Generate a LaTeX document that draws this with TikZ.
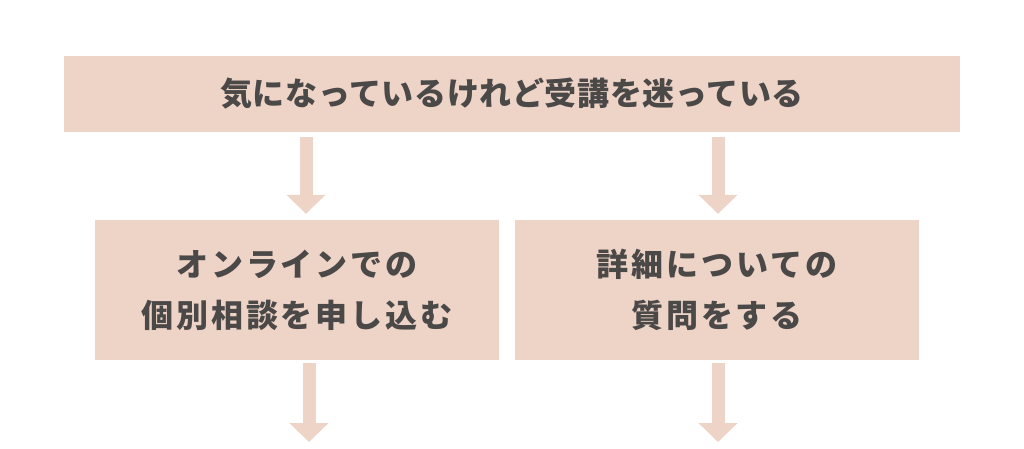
\documentclass[tikz,border=0pt]{standalone}
\usepackage{fontspec}
\newfontfamily\jp[LetterSpace=9]{Noto Sans CJK JP}
\newfontfamily\jptop[LetterSpace=2]{Noto Sans CJK JP}
\usetikzlibrary{positioning, arrows.meta}
\definecolor{boxpink}{HTML}{EED4C7}
\definecolor{textgray}{HTML}{4B4848}
\begin{document}
\begin{tikzpicture}[x=1pt, y=-1pt,
    box/.style = {fill=boxpink, text=textgray, align=center, inner sep=0pt,
                  font=\jp\bfseries\fontsize{32}{51}\selectfont},
    flow/.style = {draw=boxpink, line width=13pt,
                   -{Triangle[width=38pt, length=19pt]}}]
    \useasboundingbox (0,0) rectangle (1024,448);

    % Boxes
    \node[box, minimum width=896pt, minimum height=76pt,
          font=\jptop\bfseries\fontsize{32}{51}\selectfont] (worry) at (512,94)
        {気になっているけれど受講を迷っている};
    \node[box, minimum width=404pt, minimum height=140pt] (consult) at (297,290)
        {オンラインでの\\個別相談を申し込む};
    \node[box, minimum width=404pt, minimum height=140pt] (question) at (717,290)
        {詳細についての\\質問をする};

    % Arrows
    \coordinate (a1) at (306,137);
    \coordinate (a2) at (718,137);
    \coordinate (b1) at (309,363);
    \coordinate (b2) at (718,363);
    \coordinate (e1) at (309,442);
    \coordinate (e2) at (718,442);
    \draw[flow, shorten >=6pt] (a1) -- (a1 |- consult.north);
    \draw[flow, shorten >=6pt] (a2) -- (a2 |- question.north);
    \draw[flow] (b1) -- (e1);
    \draw[flow] (b2) -- (e2);
\end{tikzpicture}
\end{document}
